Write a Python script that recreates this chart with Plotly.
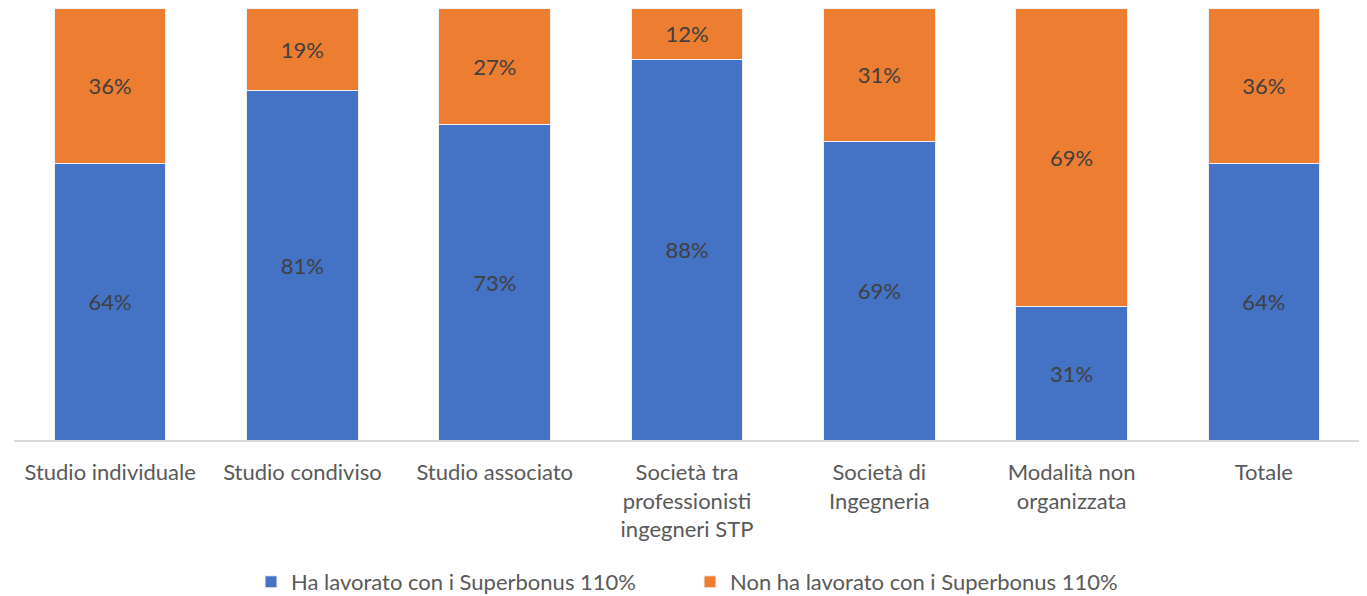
import plotly.graph_objects as go

categories = [
    "Studio individuale",
    "Studio condiviso",
    "Studio associato",
    "Società tra<br>professionisti<br>ingegneri STP",
    "Società di<br>Ingegneria",
    "Modalità non<br>organizzata",
    "Totale",
]
ha_lavorato = [64, 81, 73, 88, 69, 31, 64]
non_ha_lavorato = [36, 19, 27, 12, 31, 69, 36]

FONT = "Lato"
SIZE = 22

fig = go.Figure()
fig.add_trace(
    go.Bar(
        x=categories,
        y=ha_lavorato,
        name="Ha lavorato con i Superbonus 110%",
        marker=dict(color="#4472C4", line=dict(color="#f2f2f2", width=1)),
        text=[f"{v}%" for v in ha_lavorato],
        textposition="inside",
        insidetextanchor="middle",
        textfont=dict(color="#404040", size=SIZE, family=FONT),
    )
)
fig.add_trace(
    go.Bar(
        x=categories,
        y=non_ha_lavorato,
        name="Non ha lavorato con i Superbonus 110%",
        marker=dict(color="#ED7D31", line=dict(color="#f2f2f2", width=1)),
        text=[f"{v}%" for v in non_ha_lavorato],
        textposition="inside",
        insidetextanchor="middle",
        textfont=dict(color="#404040", size=SIZE, family=FONT),
    )
)

# page body adds an 8px margin, so the figure is sized to fit the window
fig.update_layout(
    width=1359,
    height=588,
    barmode="stack",
    bargap=0.42,
    plot_bgcolor="white",
    paper_bgcolor="white",
    margin=dict(l=6, r=7, t=0, b=156),
    font=dict(family=FONT, color="#595959", size=SIZE),
    uniformtext=dict(mode="show", minsize=SIZE),
    xaxis=dict(
        showline=True,
        linecolor="#d9d9d9",
        linewidth=1.5,
        ticks="",
        automargin=False,
        ticklabelstandoff=12,
        tickfont=dict(size=SIZE, color="#595959"),
    ),
    yaxis=dict(range=[0, 100], visible=False, showgrid=False),
    legend=dict(
        orientation="h",
        xref="container",
        x=243 / 1359,
        xanchor="left",
        yref="container",
        y=1 - 574 / 588,
        yanchor="middle",
        font=dict(size=SIZE, color="#595959"),
        itemwidth=30,
        traceorder="normal",
        entrywidthmode="pixels",
        entrywidth=394,
    ),
)

fig.write_html("out.html")
